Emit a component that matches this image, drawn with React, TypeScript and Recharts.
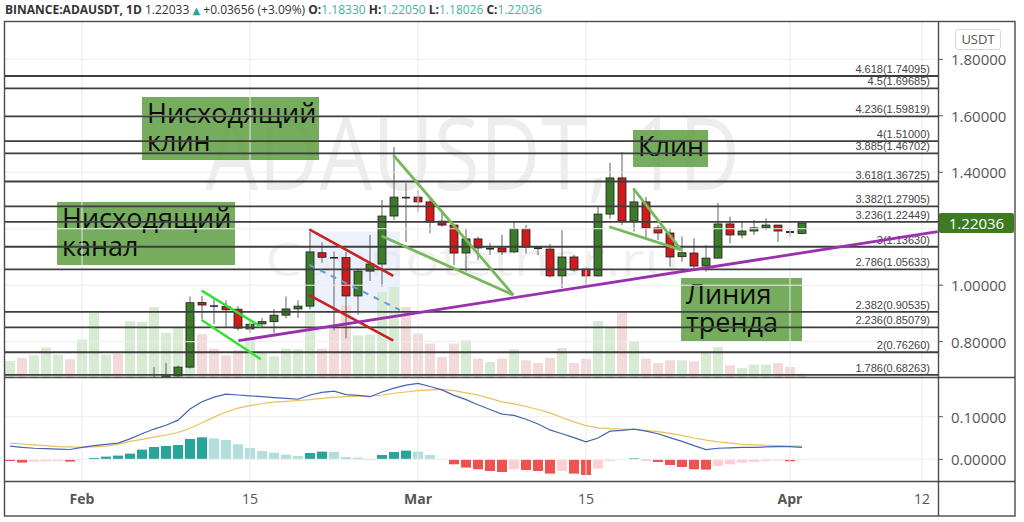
import React from 'react';
import { ComposedChart, Bar, Line, XAxis, YAxis, ReferenceLine, ReferenceArea, Cell } from 'recharts';

// ---------------- data (day index relative to 1 Feb 2021) ----------------
const firstDay = -6; // 26 Jan
const volumes = [
  400, 475, 543, 735, 560, 443,
  935, 1600, 560, 585, 1393, 1375, 1750, 1110, 1250, 1500,
  1068, 710, 543, 668, 1000, 625, 518, 710, 693, 1625,
  710, 1293, 1793, 1043, 1060, 2125, 2250, 1750, 1085, 835,
  500, 835, 918, 460, 375, 460, 693, 418, 350, 475,
  725, 350, 460, 1400, 1235, 1618, 900, 460, 350, 418,
  418, 393, 610, 750, 293, 225, 310, 310, 350, 250,
  85,
];
// direction of the days whose candles are below the visible price range
const earlyVolumeUp = [true, false, true, true, true, false, true, true, true, false, true, true];

const candleStart = 6; // 7 Feb
const opens = [
  0.640, 0.660, 0.679, 0.710, 0.939, 0.929, 0.925, 0.915, 0.845, 0.863,
  0.871, 0.894, 0.916, 0.926, 1.115, 1.100, 1.098, 0.962, 1.050, 1.075,
  1.245, 1.313, 1.312, 1.295, 1.227, 1.213, 1.114, 1.164, 1.130, 1.132,
  1.118, 1.199, 1.135, 1.128, 1.033, 1.100, 1.057, 1.033, 1.252, 1.380,
  1.227, 1.295, 1.203, 1.185, 1.101, 1.114, 1.068, 1.096, 1.217, 1.178,
  1.192, 1.203, 1.213, 1.192, 1.1833,
];
const highs = [
  0.710, 0.725, 0.716, 0.960, 0.962, 0.955, 0.947, 0.926, 0.871, 0.884,
  0.916, 0.960, 0.947, 1.190, 1.152, 1.119, 1.118, 1.060, 1.178, 1.302,
  1.489, 1.362, 1.337, 1.313, 1.256, 1.215, 1.201, 1.172, 1.149, 1.178,
  1.225, 1.213, 1.139, 1.146, 1.195, 1.107, 1.066, 1.278, 1.433, 1.472,
  1.335, 1.313, 1.213, 1.202, 1.172, 1.166, 1.142, 1.291, 1.243, 1.225,
  1.231, 1.237, 1.213, 1.202, 1.2205,
];
const lows = [
  0.590, 0.640, 0.672, 0.705, 0.880, 0.862, 0.849, 0.840, 0.831, 0.849,
  0.830, 0.883, 0.884, 0.915, 1.080, 0.840, 0.812, 0.895, 1.015, 0.995,
  1.231, 1.153, 1.260, 1.184, 1.207, 1.071, 1.048, 1.089, 1.107, 1.107,
  1.113, 1.113, 1.107, 1.028, 0.990, 1.048, 0.995, 1.030, 1.235, 1.213,
  1.190, 1.170, 1.160, 1.066, 1.083, 1.060, 1.048, 1.094, 1.148, 1.166,
  1.178, 1.195, 1.154, 1.172, 1.18026,
];
const closes = [
  0.660, 0.679, 0.710, 0.938, 0.930, 0.926, 0.913, 0.848, 0.862, 0.871,
  0.894, 0.916, 0.926, 1.118, 1.099, 1.098, 0.962, 1.050, 1.075, 1.245,
  1.312, 1.311, 1.295, 1.224, 1.213, 1.114, 1.164, 1.132, 1.132, 1.118,
  1.199, 1.135, 1.128, 1.033, 1.100, 1.054, 1.033, 1.252, 1.380, 1.227,
  1.295, 1.203, 1.185, 1.100, 1.115, 1.068, 1.096, 1.217, 1.178, 1.192,
  1.203, 1.213, 1.192, 1.185, 1.22036,
];

const macdLine = [
  0.031, 0.028, 0.026, 0.025, 0.024, 0.023,
  0.028, 0.032, 0.035, 0.038, 0.048, 0.060, 0.071, 0.080, 0.092, 0.118,
  0.135, 0.146, 0.153, 0.151, 0.149, 0.147, 0.145, 0.143, 0.141, 0.151,
  0.157, 0.160, 0.152, 0.150, 0.147, 0.158, 0.167, 0.174, 0.178, 0.171,
  0.163, 0.150, 0.140, 0.128, 0.117, 0.106, 0.103, 0.094, 0.083, 0.069,
  0.060, 0.051, 0.041, 0.050, 0.066, 0.068, 0.071, 0.066, 0.060, 0.051,
  0.042, 0.032, 0.023, 0.026, 0.027, 0.028, 0.028, 0.029, 0.030, 0.030,
  0.028,
];
const signalLine = [
  0.038, 0.036, 0.034, 0.032, 0.030, 0.029,
  0.028, 0.029, 0.031, 0.035, 0.042, 0.047, 0.052, 0.057, 0.063, 0.073,
  0.086, 0.099, 0.111, 0.120, 0.126, 0.131, 0.134, 0.136, 0.138, 0.140,
  0.143, 0.146, 0.147, 0.148, 0.148, 0.151, 0.155, 0.158, 0.161, 0.163,
  0.164, 0.161, 0.156, 0.151, 0.143, 0.135, 0.130, 0.124, 0.117, 0.109,
  0.098, 0.088, 0.079, 0.074, 0.072, 0.071, 0.070, 0.068, 0.065, 0.061,
  0.056, 0.050, 0.045, 0.041, 0.038, 0.035, 0.034, 0.033, 0.032, 0.031,
  0.031,
];
const macdHist = [
  -0.0040, -0.0077, -0.0054, -0.0047, -0.0045, -0.0054,
  -0.0007, 0.0031, 0.0063, 0.0087, 0.0134, 0.0228, 0.0289, 0.0312, 0.0336, 0.0477,
  0.0516, 0.0493, 0.0453, 0.0352, 0.0265, 0.0195, 0.0157, 0.0110, 0.0077, 0.0148,
  0.0181, 0.0176, 0.0054, 0.0040, -0.0016, 0.0101, 0.0171, 0.0204, 0.0181, 0.0101,
  0.0009, -0.0117, -0.0195, -0.0235, -0.0275, -0.0298, -0.0235, -0.0251, -0.0275, -0.0336,
  -0.0275, -0.0336, -0.0369, -0.0218, -0.0040, -0.0016, 0.0023, -0.0023, -0.0063, -0.0134,
  -0.0181, -0.0235, -0.0242, -0.0157, -0.0117, -0.0077, -0.0063, -0.0040, -0.0031, -0.0047,
  -0.0016,
];

const fibRatios = ['1.786', '2', '2.236', '2.382', '2.786', '3', '3.236', '3.382', '3.618', '3.885', '4', '4.236', '4.5', '4.618'];
const fibPrices = [0.68263, 0.7626, 0.85079, 0.90535, 1.05633, 1.1363, 1.22449, 1.27905, 1.36725, 1.46702, 1.51, 1.59819, 1.69685, 1.74095];

const priceGrid = [0.8, 1.0, 1.2, 1.4, 1.6, 1.8];
const priceAxisTicks = [0.8, 1.0, 1.4, 1.6, 1.8];
const macdTicks = [0, 0.1];
const timeTicks = [0, 14, 28, 42, 59, 70];
const timeLabels = ['Feb', '15', 'Mar', '15', 'Apr', '12'];

const lastPrice = 1.22036;
const headerLast = '1.22033';
const headerChange = '+0.03656 (+3.09%)';

// drawn lines: [day, price] pairs
const flagUpper = [[9.97, 0.981], [14.9, 0.853]];
const flagLower = [[9.97, 0.877], [14.9, 0.738]];
const channelTop = [[18.94, 1.198], [25.94, 1.033]];
const channelBottom = [[18.94, 0.965], [25.94, 0.8035]];
const channelMid = [[18.94, 1.072], [26.5, 0.912]];
const trendLine = [[13.03, 0.8035], [71.3, 1.1895]];
const wedgeUpper = [[25.94, 1.461], [35.94, 0.9654]];
const wedgeLower = [[24.97, 1.174], [35.94, 0.9654]];
const klinUpper = [[45.94, 1.343], [49.92, 1.125]];
const klinLower = [[43.94, 1.207], [49.92, 1.125]];
const channelZone = [[18.9, 0.9], [26.5, 1.19]];

const noteTexts = [['Нисходящий', 'клин'], ['Нисходящий', 'канал'], ['Клин'], ['Линия', 'тренда']];
const noteAnchors = [
  [5.0, 1.4434, 19.75, 1.6665],
  [-2.08, 1.0716, 12.75, 1.2947],
  [45.92, 1.4186, 52.17, 1.5496],
  [49.92, 0.8025, 60.0, 1.0256],
];

// ---------------- layout ----------------
const XMIN = -6.4167;
const XMAX = 71.3333;
const PMIN = 0.67503;
const PMAX = 1.93562;
const MMIN = -0.0509;
const MMAX = 0.1932;
const VMAX = 8900;

const FONT = '"Open Sans", "DejaVu Sans", sans-serif';
const AXIS_COLOR = '#555';

const mainData = volumes.map((vol, i) => {
  const d = firstDay + i;
  const k = d - candleStart;
  const has = k >= 0 && k < opens.length;
  return {
    d,
    vol,
    up: has ? closes[k] >= opens[k] : earlyVolumeUp[i],
    range: has ? [lows[k], highs[k]] : null,
    o: has ? opens[k] : null,
    h: has ? highs[k] : null,
    l: has ? lows[k] : null,
    c: has ? closes[k] : null,
  };
});

const macdData = macdLine.map((m, i) => ({ d: firstDay + i, macd: m, signal: signalLine[i], hist: macdHist[i] }));

const histColor = (i: number) => {
  const v = macdHist[i];
  const prev = i > 0 ? macdHist[i - 1] : v + 1e-6 * (v >= 0 ? -1 : 1);
  if (v >= 0) return v >= prev ? '#26a69a' : '#b2dfdb';
  return v <= prev ? '#ef5350' : '#ffcdd2';
};

function CandleShape(props: any) {
  const { x, y, width, height, payload } = props;
  if (!payload || payload.o == null || !isFinite(y) || !isFinite(height)) return null;
  const top = Math.min(y, y + height);
  const h = Math.abs(height);
  const span = payload.h - payload.l;
  if (!(span > 0)) return null;
  const ppu = h / span;
  const cx = x + width / 2;
  const bTop = top + (payload.h - Math.max(payload.o, payload.c)) * ppu;
  const bBot = top + (payload.h - Math.min(payload.o, payload.c)) * ppu;
  const up = payload.c >= payload.o;
  const bh = Math.max(bBot - bTop, 1.6);
  const flat = bBot - bTop < 2.2;
  return (
    <g>
      <line x1={cx} x2={cx} y1={top} y2={top + h} stroke="#606060" strokeWidth={1} />
      <rect x={x} y={bTop} width={width} height={bh}
        fill={flat ? '#2a2a2a' : up ? '#3b7b2a' : '#cf1b1b'}
        stroke="#1e1e1e" strokeWidth={flat ? 0 : 0.8} />
    </g>
  );
}

function FibLabel(props: any) {
  const vb = props.viewBox || {};
  return (
    <text x={vb.x + vb.width - 8} y={vb.y - 3} textAnchor="end" fontSize={11}
      fontFamily='"Liberation Sans", Arial, sans-serif' fill="#444">{props.text}</text>
  );
}

function PriceTag(props: any) {
  const vb = props.viewBox || {};
  const x0 = vb.x + vb.width + 1;
  return (
    <g>
      <rect x={x0} y={vb.y - 10} width={75} height={20} rx={2} fill="#3c7b22" />
      <text x={x0 + 37.5} y={vb.y + 0.5} textAnchor="middle" dominantBaseline="central" fontSize={15}
        fontFamily={FONT} fill="#fff">{props.text}</text>
    </g>
  );
}

function NoteLabel(props: any) {
  const vb = props.viewBox || {};
  return (
    <g>
      {props.lines.map((t: string, i: number) => (
        <text key={i} x={vb.x + 5} y={vb.y + 26 + i * 28} fontSize={27} fontFamily={FONT} fill="#0c0c0c">{t}</text>
      ))}
    </g>
  );
}

function PriceTick(props: any) {
  const { x, y, payload } = props;
  return (
    <g>
      <line x1={x} x2={x + 5} y1={y} y2={y} stroke={AXIS_COLOR} />
      <text x={x + 13} y={y} dominantBaseline="central" fontSize={15} fontFamily={FONT} fill={AXIS_COLOR}>
        {Number(payload.value).toFixed(5)}
      </text>
    </g>
  );
}

function TimeTick(props: any) {
  const { x, y, payload } = props;
  const i = timeTicks.indexOf(payload.value);
  const label = i >= 0 ? timeLabels[i] : '';
  const bold = isNaN(Number(label));
  return (
    <text x={x} y={y + 17} textAnchor="middle" dominantBaseline="central" fontSize={14}
      fontWeight={bold ? 700 : 400} fontFamily={FONT} fill={AXIS_COLOR}>{label}</text>
  );
}

const seg = (p: number[][]) => [{ x: p[0][0], y: p[0][1] }, { x: p[1][0], y: p[1][1] }];

export default function App() {
  const teal = '#4cae9f';
  const last = opens.length - 1;
  return (
    <div style={{ position: 'absolute', left: 0, top: 0, width: 1024, height: 522, background: '#fff', overflow: 'hidden' }}>
      {/* watermark */}
      <svg width={1024} height={522} style={{ position: 'absolute', left: 0, top: 0 }}>
        <text x={205} y={190} fontSize={100} fontFamily={FONT} fill="#000" fillOpacity={0.07}
          textLength={535} lengthAdjust="spacingAndGlyphs">ADAUSDT, 1D</text>
        <text x={265} y={276} fontSize={46} fontFamily={FONT} fill="#000" fillOpacity={0.06}
          textLength={415} lengthAdjust="spacingAndGlyphs">Cannotether.ru</text>
      </svg>

      {/* header */}
      <div style={{ position: 'absolute', left: 5, top: 2, fontFamily: FONT, fontSize: 12, lineHeight: '16px', color: '#333', whiteSpace: 'nowrap' }}>
        <b>BINANCE:ADAUSDT, 1D</b> {headerLast} <span style={{ color: '#26a69a', fontSize: 10 }}>▲</span> {headerChange}{' '}
        <b>O:</b><span style={{ color: teal }}>{opens[last].toFixed(5)}</span>{' '}
        <b>H:</b><span style={{ color: teal }}>{highs[last].toFixed(5)}</span>{' '}
        <b>L:</b><span style={{ color: teal }}>{lows[last].toFixed(5)}</span>{' '}
        <b>C:</b><span style={{ color: teal }}>{closes[last].toFixed(5)}</span>
      </div>

      {/* main price pane */}
      <div style={{ position: 'absolute', left: 0, top: 0 }}>
        <ComposedChart width={1024} height={377} data={mainData} margin={{ top: 21, right: 9, bottom: 0, left: 5 }}>
          <XAxis xAxisId="c" dataKey="d" type="number" domain={[XMIN, XMAX]} allowDataOverflow hide />
          <XAxis xAxisId="v" dataKey="d" type="number" domain={[XMIN, XMAX]} allowDataOverflow hide />
          <YAxis yAxisId="p" orientation="right" type="number" domain={[PMIN, PMAX]} allowDataOverflow
            ticks={priceAxisTicks} width={77} tickSize={0} tickMargin={0} axisLine={false} tickLine={false}
            tick={(p: any) => <PriceTick {...p} />} />
          <YAxis yAxisId="vol" type="number" domain={[0, VMAX]} allowDataOverflow hide />

          {timeTicks.map((t) => (
            <ReferenceLine key={'vg' + t} xAxisId="c" yAxisId="p" x={t} stroke="#e9e9e9" strokeWidth={1} />
          ))}
          {priceGrid.map((p) => (
            <ReferenceLine key={'hg' + p} xAxisId="c" yAxisId="p" y={p} stroke="#ededed" strokeWidth={1} />
          ))}

          <ReferenceArea xAxisId="c" yAxisId="p" x1={channelZone[0][0]} x2={channelZone[1][0]}
            y1={channelZone[0][1]} y2={channelZone[1][1]} fill="#dfe7f8" fillOpacity={0.6} stroke="none" />

          <Bar xAxisId="v" yAxisId="vol" dataKey="vol" barSize={10} isAnimationActive={false}>
            {mainData.map((r, i) => (
              <Cell key={i} fill={r.up ? '#d7ebd3' : '#f2dadb'} />
            ))}
          </Bar>

          {fibPrices.map((p, i) => (
            <ReferenceLine key={'fib' + i} xAxisId="c" yAxisId="p" y={p} stroke="#3e3e3e" strokeWidth={1.8}
              label={<FibLabel text={`${fibRatios[i]}(${p.toFixed(5)})`} />} />
          ))}

          {noteTexts.map((lines, i) => (
            <ReferenceArea key={'note' + i} xAxisId="c" yAxisId="p" x1={noteAnchors[i][0]} x2={noteAnchors[i][2]}
              y1={noteAnchors[i][1]} y2={noteAnchors[i][3]} fill="#62a048" fillOpacity={0.88} stroke="none"
              label={<NoteLabel lines={lines} />} />
          ))}

          <Bar xAxisId="c" yAxisId="p" dataKey="range" barSize={8} isAnimationActive={false}
            shape={(p: any) => <CandleShape {...p} />} />

          <ReferenceLine xAxisId="c" yAxisId="p" segment={seg(flagUpper)} stroke="#34e034" strokeWidth={2.5} />
          <ReferenceLine xAxisId="c" yAxisId="p" segment={seg(flagLower)} stroke="#34e034" strokeWidth={2.5} />
          <ReferenceLine xAxisId="c" yAxisId="p" segment={seg(channelTop)} stroke="#c62222" strokeWidth={2.6} />
          <ReferenceLine xAxisId="c" yAxisId="p" segment={seg(channelBottom)} stroke="#c62222" strokeWidth={2.6} />
          <ReferenceLine xAxisId="c" yAxisId="p" segment={seg(channelMid)} stroke="#6a98dc" strokeWidth={2} strokeDasharray="6 6" />
          <ReferenceLine xAxisId="c" yAxisId="p" segment={seg(trendLine)} stroke="#9a2fb0" strokeWidth={2.8} />
          <ReferenceLine xAxisId="c" yAxisId="p" segment={seg(wedgeUpper)} stroke="#78b85c" strokeWidth={2.8} />
          <ReferenceLine xAxisId="c" yAxisId="p" segment={seg(wedgeLower)} stroke="#78b85c" strokeWidth={2.8} />
          <ReferenceLine xAxisId="c" yAxisId="p" segment={seg(klinUpper)} stroke="#78b85c" strokeWidth={2.8} />
          <ReferenceLine xAxisId="c" yAxisId="p" segment={seg(klinLower)} stroke="#78b85c" strokeWidth={2.8} />

          <ReferenceLine xAxisId="c" yAxisId="p" y={lastPrice} stroke="none" strokeOpacity={0}
            label={<PriceTag text={lastPrice.toFixed(5)} />} />
        </ComposedChart>
      </div>

      {/* MACD pane */}
      <div style={{ position: 'absolute', left: 0, top: 377 }}>
        <ComposedChart width={1024} height={139} data={macdData} margin={{ top: 0, right: 9, bottom: 0, left: 5 }}>
          <XAxis dataKey="d" type="number" domain={[XMIN, XMAX]} allowDataOverflow ticks={timeTicks} interval={0}
            height={35} tickSize={0} tickMargin={0} axisLine={false} tickLine={false}
            tick={(p: any) => <TimeTick {...p} />} />
          <YAxis orientation="right" type="number" domain={[MMIN, MMAX]} allowDataOverflow ticks={macdTicks}
            width={77} tickSize={0} tickMargin={0} axisLine={false} tickLine={false}
            tick={(p: any) => <PriceTick {...p} />} />
          {timeTicks.map((t) => (
            <ReferenceLine key={'mvg' + t} x={t} stroke="#e9e9e9" strokeWidth={1} />
          ))}
          {macdTicks.map((t) => (
            <ReferenceLine key={'mhg' + t} y={t} stroke="#efefef" strokeWidth={1} />
          ))}
          <Bar dataKey="hist" barSize={10} isAnimationActive={false}>
            {macdData.map((_, i) => (
              <Cell key={i} fill={histColor(i)} />
            ))}
          </Bar>
          <Line dataKey="signal" type="linear" stroke="#ebc05a" strokeWidth={1.2} dot={false} isAnimationActive={false} />
          <Line dataKey="macd" type="linear" stroke="#4565b0" strokeWidth={1.2} dot={false} isAnimationActive={false} />
        </ComposedChart>
      </div>

      {/* USDT badge */}
      <div style={{ position: 'absolute', left: 955, top: 29, width: 44, height: 19, border: '1px solid #d8d8d8', borderRadius: 3,
        fontFamily: FONT, fontSize: 13, color: '#555', textAlign: 'center', lineHeight: '19px', background: '#fff' }}>USDT</div>

      {/* frame */}
      <svg width={1024} height={522} style={{ position: 'absolute', left: 0, top: 0, pointerEvents: 'none' }}>
        <rect x={4.5} y={21.5} width={1010.5} height={494.5} fill="none" stroke="#4a4a4a" strokeWidth={1.4} />
        <line x1={938.5} x2={938.5} y1={21} y2={516} stroke="#4a4a4a" strokeWidth={1.4} />
        <line x1={4} x2={1015} y1={377.5} y2={377.5} stroke="#4a4a4a" strokeWidth={1.4} />
        <line x1={4} x2={1015} y1={481.5} y2={481.5} stroke="#4a4a4a" strokeWidth={1.4} />
      </svg>
    </div>
  );
}
